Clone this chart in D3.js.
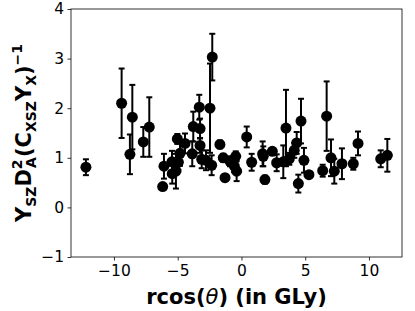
<!DOCTYPE html>
<html>
<head>
<meta charset="utf-8">
<script src="https://cdn.jsdelivr.net/npm/d3@7"></script>
<style>
  body { margin: 0; background: #fff; }
  svg { display: block; font-family: "DejaVu Sans", sans-serif; }
</style>
</head>
<body>
<script>
// positions along the line of sight (GLy)
var xs = [-12.2, -9.40, -8.56, -8.75, -7.70, -7.23, -6.18, -6.08, -5.45, -5.43,
  -5.14, -5.03, -4.95, -4.82, -4.43, -3.86, -3.78, -3.31, -3.25, -3.25,
  -3.12, -2.78, -2.47, -2.34, -2.29, -1.69, -1.43, -1.29, -0.90, -0.56,
  -0.45, -0.38, 0.41, 0.80, 1.66, 1.71, 1.84, 2.42, 2.76, 3.28,
  3.49, 3.75, 4.14, 4.33, 4.67, 4.46, 4.90, 5.29, 6.37, 6.68,
  7.02, 7.28, 7.88, 8.77, 9.14, 10.92, 11.44];
var ys = [0.81, 2.10, 1.82, 1.07, 1.32, 1.62, 0.42, 0.83, 0.92, 0.68,
  0.73, 1.38, 0.91, 1.09, 1.29, 1.08, 1.63, 2.02, 1.59, 1.25,
  0.97, 0.95, 2.00, 0.85, 3.03, 1.27, 1.00, 0.60, 0.93, 0.83,
  1.03, 0.73, 1.42, 0.91, 1.08, 1.03, 0.56, 1.13, 0.90, 0.92,
  1.60, 0.98, 1.15, 1.30, 1.74, 0.48, 0.95, 0.66, 0.74, 1.84,
  1.00, 0.73, 0.88, 0.88, 1.29, 0.98, 1.05];
var errs = [0.16, 0.70, 0.65, 0.40, 0.30, 0.60, 0.05, 0.25, 0.22, 0.20,
  0.35, 0.10, 0.15, 0.25, 0.20, 0.25, 0.30, 0.25, 0.20, 0.15,
  0.18, 0.20, 0.90, 0.20, 0.47, 0.08, 0.08, 0.07, 0.10, 0.12,
  0.10, 0.20, 0.21, 0.17, 0.25, 0.20, 0.08, 0.06, 0.17, 0.33,
  0.77, 0.12, 0.15, 0.22, 0.45, 0.18, 0.25, 0.05, 0.12, 0.70,
  0.37, 0.25, 0.31, 0.12, 0.24, 0.17, 0.33];
var xTicks = [-10, -5, 0, 5, 10];
var yTicks = [-1, 0, 1, 2, 3, 4];

var W = 415, H = 311;
var margin = {top: 9, right: 13, bottom: 54, left: 71};
var width = W - margin.left - margin.right;
var height = H - margin.top - margin.bottom;

var data = xs.map(function (x, i) { return {x: x, y: ys[i], e: errs[i]}; });

var svg = d3.select('body').append('svg')
    .attr('width', W)
    .attr('height', H);

var g = svg.append('g')
    .attr('transform', `translate(${margin.left}, ${margin.top})`);

var xScale = d3.scaleLinear().domain([-13.37, 12.59]).range([0, width]);
var yScale = d3.scaleLinear().domain([-1, 4]).range([height, 0]);

// error bars
var eb = g.append('g').attr('stroke', '#000').attr('stroke-width', 2);
data.forEach(function (d) {
  var cx = xScale(d.x);
  eb.append('line')
    .attr('x1', cx).attr('x2', cx)
    .attr('y1', yScale(d.y - d.e)).attr('y2', yScale(d.y + d.e));
  [d.y - d.e, d.y + d.e].forEach(function (v) {
    eb.append('line')
      .attr('x1', cx - 3).attr('x2', cx + 3)
      .attr('y1', yScale(v)).attr('y2', yScale(v));
  });
});

// points
g.append('g').selectAll('circle')
  .data(data)
  .enter().append('circle')
    .attr('cx', d => xScale(d.x))
    .attr('cy', d => yScale(d.y))
    .attr('r', 5.5)
    .attr('fill', '#000');

// axes
var fmt = d => d < 0 ? '\u2212' + Math.abs(d) : d;
var xAxis = g.append('g')
    .attr('transform', 'translate(0,' + height + ')')
    .call(d3.axisBottom(xScale).tickValues(xTicks).tickSize(3.5).tickPadding(4).tickFormat(fmt));
var yAxis = g.append('g')
    .call(d3.axisLeft(yScale).tickValues(yTicks).tickSize(3.5).tickPadding(3.5).tickFormat(fmt));
[xAxis, yAxis].forEach(function (a) {
  a.select('.domain').remove();
  a.selectAll('line').attr('stroke', '#000').attr('stroke-width', 0.8);
  a.selectAll('text').attr('fill', '#000')
    .style('font-family', '"DejaVu Sans", sans-serif').style('font-size', '15.5px');
});

// frame
g.append('rect')
  .attr('width', width).attr('height', height)
  .attr('fill', 'none').attr('stroke', '#000').attr('stroke-width', 0.8);

// x label
var xl = svg.append('text')
  .attr('x', margin.left + width / 2)
  .attr('y', 304)
  .attr('text-anchor', 'middle')
  .style('font-size', '21px').style('font-weight', 'bold');
xl.append('tspan').text('rcos(');
xl.append('tspan').text('\u03b8').style('font-style', 'italic').style('font-weight', 'normal');
xl.append('tspan').text(') (in GLy)');

// y label
var yl = svg.append('text')
  .attr('transform', 'translate(31,' + (margin.top + height / 2) + ') rotate(-90)')
  .attr('text-anchor', 'middle')
  .style('font-size', '21px').style('font-weight', 'bold');
yl.append('tspan').text('Y');
yl.append('tspan').text('SZ').attr('dy', 5).style('font-size', '14px');
yl.append('tspan').text('D').attr('dy', -5);
yl.append('tspan').text('2').attr('dy', -9).style('font-size', '14px');
yl.append('tspan').text('A').attr('dy', 14).attr('dx', -8.5).style('font-size', '14px');
yl.append('tspan').text('(C').attr('dy', -5);
yl.append('tspan').text('XSZ').attr('dy', 5).style('font-size', '14px');
yl.append('tspan').text('Y').attr('dy', -5);
yl.append('tspan').text('X').attr('dy', 5).style('font-size', '14px');
yl.append('tspan').text(')').attr('dy', -5);
yl.append('tspan').text('\u22121').attr('dy', -9).style('font-size', '14px');
</script>
</body>
</html>
